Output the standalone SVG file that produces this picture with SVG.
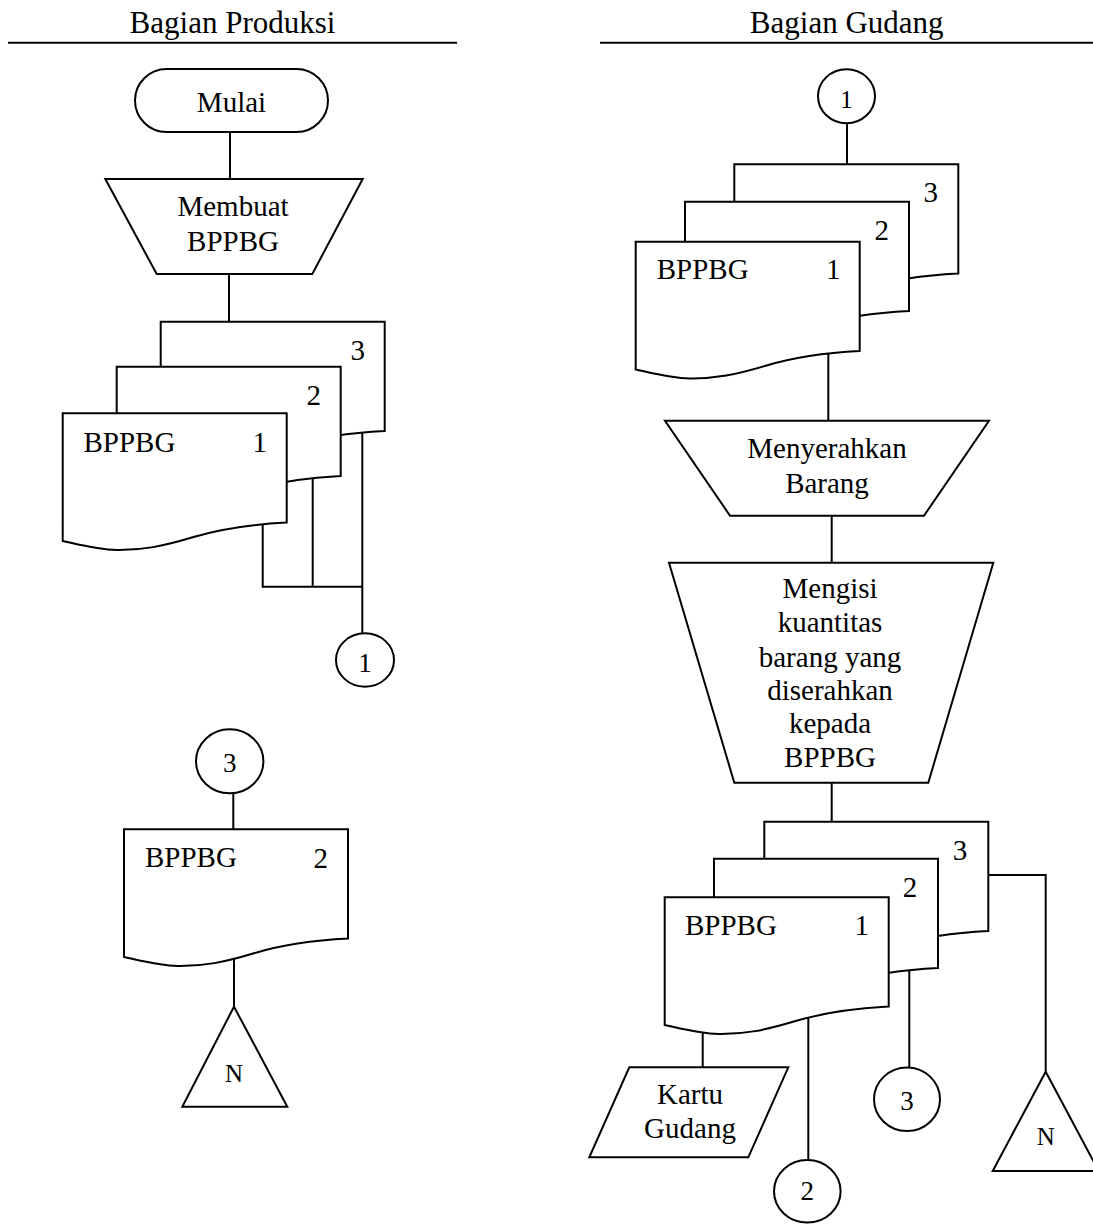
<svg xmlns="http://www.w3.org/2000/svg" xmlns:xlink="http://www.w3.org/1999/xlink" width="1093" height="1224" viewBox="0 0 1093 1224">
  <style>
    .shape { fill: #ffffff; stroke: #000000; stroke-width: 2; }
    .wire { fill: none; stroke: #000000; stroke-width: 2; }
    text { font-family: "Liberation Serif", "Times New Roman", serif; fill: #000000; }
    .lbl { font-size: 29px; text-anchor: middle; }
    .doc { font-size: 29px; }
    .num { font-size: 29px; text-anchor: middle; }
    .head { font-size: 31px; text-anchor: middle; }
    .small { font-size: 25px; text-anchor: middle; }
    .mid { font-size: 27px; text-anchor: middle; }
  </style>
  <defs>
    <!-- document sheet with wavy lower edge -->
    <path id="sheet" class="shape" d="M0,0 H224 V109.3 C190,111 160,115 130,124 C100,133 80,137 54,136.7 C35,136.5 15,131 0,127.7 Z"/>
  </defs>

  <!-- lane headers -->
  <g id="lane-produksi">
    <text class="head" x="232.5" y="33">Bagian Produksi</text>
    <line class="wire" x1="8" y1="42.7" x2="457" y2="42.7"/>
  </g>
  <g id="lane-gudang">
    <text class="head" x="846.7" y="33">Bagian Gudang</text>
    <line class="wire" x1="600" y1="42.7" x2="1093" y2="42.7"/>
  </g>

  <!-- connectors -->
  <g id="connectors">
    <line class="wire" x1="230" y1="131.7" x2="230" y2="179"/>
    <line class="wire" x1="229" y1="274" x2="229" y2="321.7"/>
    <polyline class="wire" points="262.7,524 262.7,586.7 362.3,586.7"/>
    <line class="wire" x1="312.7" y1="476" x2="312.7" y2="586.7"/>
    <line class="wire" x1="362.3" y1="431" x2="362.3" y2="633.3"/>
    <line class="wire" x1="233.3" y1="793.3" x2="233.3" y2="829.3"/>
    <line class="wire" x1="234" y1="958" x2="234" y2="1006.7"/>

    <line class="wire" x1="847" y1="123.3" x2="847" y2="164.3"/>
    <line class="wire" x1="828.3" y1="352.5" x2="828.3" y2="420.7"/>
    <line class="wire" x1="831.7" y1="515.7" x2="831.7" y2="562.7"/>
    <line class="wire" x1="831.7" y1="782.7" x2="831.7" y2="821.7"/>
    <polyline class="wire" points="989,875 1045.7,875 1045.7,1071.7"/>
    <line class="wire" x1="909.3" y1="968.3" x2="909.3" y2="1067.7"/>
    <line class="wire" x1="808.3" y1="1017" x2="808.3" y2="1160"/>
    <line class="wire" x1="702.7" y1="1032" x2="702.7" y2="1067.3"/>
  </g>

  <!-- Bagian Produksi -->
  <g id="mulai">
    <rect class="shape" x="135" y="69" width="193" height="63" rx="31.5" ry="31.5"/>
    <text class="lbl" x="231.5" y="112">Mulai</text>
  </g>
  <g id="membuat-bppbg">
    <polygon class="shape" points="105.3,179 362.7,179 312.3,274 156.7,274"/>
    <text class="lbl" x="233" y="215.7">Membuat</text>
    <text class="lbl" x="233" y="250.7">BPPBG</text>
  </g>
  <g id="bppbg-produksi">
    <use xlink:href="#sheet" x="160.7" y="321.7"/>
    <text class="num" x="357.7" y="360">3</text>
    <use xlink:href="#sheet" x="116.7" y="366.7"/>
    <text class="num" x="313.7" y="404.5">2</text>
    <use xlink:href="#sheet" x="62.7" y="413.3"/>
    <text class="doc" x="83.5" y="451.5">BPPBG</text>
    <text class="num" x="259.7" y="451.5">1</text>
  </g>
  <g id="ke-gudang-1">
    <ellipse class="shape" cx="365" cy="660" rx="29" ry="26.7"/>
    <text class="mid" x="365" y="671.7">1</text>
  </g>
  <g id="dari-gudang-3">
    <ellipse class="shape" cx="229.7" cy="761.3" rx="33.7" ry="32"/>
    <text class="mid" x="229.7" y="771.7">3</text>
  </g>
  <g id="bppbg-lembar-2">
    <use xlink:href="#sheet" x="124" y="829.3"/>
    <text class="doc" x="145" y="867">BPPBG</text>
    <text class="num" x="320.7" y="867.5">2</text>
  </g>
  <g id="arsip-produksi">
    <polygon class="shape" points="234,1006.7 287.3,1106.7 182.3,1106.7"/>
    <text class="small" x="234" y="1081.7">N</text>
  </g>

  <!-- Bagian Gudang -->
  <g id="dari-produksi-1">
    <ellipse class="shape" cx="846.5" cy="96.2" rx="28.5" ry="27"/>
    <text class="small" x="846.5" y="108.3">1</text>
  </g>
  <g id="bppbg-diterima">
    <use xlink:href="#sheet" x="734.3" y="164.3"/>
    <text class="num" x="930.7" y="201.7">3</text>
    <use xlink:href="#sheet" x="685" y="201.7"/>
    <text class="num" x="881.7" y="240">2</text>
    <use xlink:href="#sheet" x="635.7" y="241.7"/>
    <text class="doc" x="656.7" y="279.3">BPPBG</text>
    <text class="num" x="833.3" y="279.3">1</text>
  </g>
  <g id="menyerahkan-barang">
    <polygon class="shape" points="665,420.7 989,420.7 924,515.7 730,515.7"/>
    <text class="lbl" x="827" y="458.3">Menyerahkan</text>
    <text class="lbl" x="827" y="492.7">Barang</text>
  </g>
  <g id="mengisi-kuantitas">
    <polygon class="shape" points="669,562.7 993.3,562.7 928.3,782.7 734.3,782.7"/>
    <text class="lbl" x="830" y="598.3">Mengisi</text>
    <text class="lbl" x="830" y="631.7">kuantitas</text>
    <text class="lbl" x="830" y="666.7">barang yang</text>
    <text class="lbl" x="830" y="700">diserahkan</text>
    <text class="lbl" x="830" y="733.3">kepada</text>
    <text class="lbl" x="830" y="766.7">BPPBG</text>
  </g>
  <g id="bppbg-terisi">
    <use xlink:href="#sheet" x="764.3" y="821.7"/>
    <text class="num" x="960" y="860">3</text>
    <use xlink:href="#sheet" x="714" y="858.7"/>
    <text class="num" x="910" y="896.7">2</text>
    <use xlink:href="#sheet" x="664.7" y="897.3"/>
    <text class="doc" x="685" y="935">BPPBG</text>
    <text class="num" x="861.7" y="935">1</text>
  </g>
  <g id="kartu-gudang">
    <polygon class="shape" points="629.3,1067.3 788.3,1067.3 748.3,1157.3 589.3,1157.3"/>
    <text class="lbl" x="690" y="1104">Kartu</text>
    <text class="lbl" x="690" y="1138.3">Gudang</text>
  </g>
  <g id="ke-produksi-3">
    <ellipse class="shape" cx="907" cy="1099.3" rx="33" ry="31.7"/>
    <text class="mid" x="907" y="1110">3</text>
  </g>
  <g id="ke-bagian-2">
    <ellipse class="shape" cx="807.3" cy="1191.3" rx="33.3" ry="31.3"/>
    <text class="mid" x="807.3" y="1200">2</text>
  </g>
  <g id="arsip-gudang">
    <polygon class="shape" points="1045.7,1071.7 1098.7,1171 992.7,1171"/>
    <text class="small" x="1045.7" y="1145">N</text>
  </g>
</svg>
